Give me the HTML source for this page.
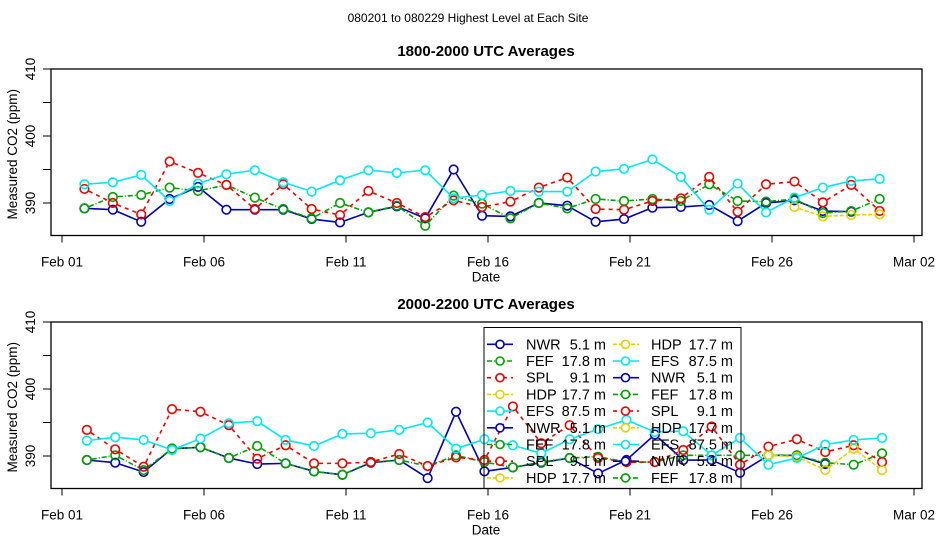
<!DOCTYPE html>
<html><head><meta charset="utf-8"><style>
body{margin:0;background:#fff;}
svg{display:block;font-family:"Liberation Sans",sans-serif;}
</style></head><body>
<svg id="chart" width="936" height="540" viewBox="0 0 936 540" xmlns="http://www.w3.org/2000/svg">
<rect width="936" height="540" fill="#fff"/>
<text x="468" y="22" font-size="12" text-anchor="middle">080201  to  080229 Highest Level at Each Site</text>
<g id="p1"></g><g id="p2"></g><g id="legend"></g>
</svg>
<script>
const days=[1,2,3,4,5,6,7,8,9,10,11,12,13,14,15,16,17,18,19,20,21,22,23,24,25,26,27,28,29];
const xTickLabels=["Feb 01","Feb 06","Feb 11","Feb 16","Feb 21","Feb 26","Mar 02"];
const xTickDays=[1,6,11,16,21,26,31];
const yTicks=[390,395,400,405,410];
const yTickLabels=["390","400","410"];
const siteNames=["NWR","FEF","SPL","HDP","EFS"];
const siteHeights=["5.1 m","17.8 m","9.1 m","17.7 m","87.5 m"];
// panel 1: 1800-2000 UTC
const p1NWR=[389.2,389.0,387.2,390.6,392.4,389.0,389.0,389.0,387.6,387.1,388.6,389.5,387.7,395.0,388.1,388.0,390.0,389.6,387.2,387.6,389.3,389.4,389.7,387.3,390.0,390.4,388.8,388.7,null];
const p1FEF=[389.2,390.9,391.2,392.3,391.8,392.7,390.8,389.1,387.7,390.0,388.6,389.6,386.6,391.1,389.9,387.7,390.0,389.2,390.6,390.3,390.6,390.3,392.8,390.3,390.2,390.6,388.5,388.8,390.6];
const p1SPL=[392.1,390.0,388.3,396.2,394.5,392.7,389.1,392.8,389.1,388.2,391.8,390.0,387.9,390.4,389.4,390.2,392.3,393.8,389.1,389.0,390.3,390.7,393.9,388.7,392.8,393.2,390.1,392.7,388.8];
const p1HDP=[null,null,null,null,null,null,null,null,null,null,null,null,null,null,null,null,null,null,null,null,null,null,null,null,null,389.4,388.0,388.2,388.3];
const p1EFS=[392.8,393.1,394.2,390.3,392.9,394.3,394.9,393.1,391.7,393.4,394.9,394.5,394.9,390.7,391.2,391.8,391.7,391.7,394.7,395.1,396.5,393.9,389.0,392.9,388.6,390.8,392.3,393.3,393.6];
// panel 2: 2000-2200 UTC
const p2NWR=[389.4,389.0,387.6,391.1,391.3,389.7,388.8,388.9,387.7,387.2,389.0,389.4,386.7,396.6,387.7,388.3,389.0,389.7,387.4,389.4,393.2,389.4,389.4,387.5,390.1,390.1,388.8,null,null];
const p2FEF=[389.4,390.1,387.9,391.1,391.3,389.7,391.5,388.9,387.7,387.2,389.1,389.4,388.5,390.1,389.1,388.3,389.1,389.7,389.9,389.1,389.1,390.1,390.1,390.1,390.1,390.1,389.0,388.7,390.4];
const p2SPL=[393.9,391.0,388.4,397.0,396.6,394.6,389.6,391.6,388.9,388.9,389.1,390.3,388.5,389.8,389.4,397.4,391.9,394.6,389.7,389.1,389.1,390.9,394.4,388.7,391.4,392.5,390.6,391.6,389.1];
const p2HDP=[null,null,null,null,null,null,null,null,null,null,null,null,null,null,null,null,null,null,null,null,null,null,null,null,390.1,389.9,387.9,391.1,387.9];
const p2EFS=[392.3,392.8,392.4,390.9,392.6,394.9,395.2,392.4,391.5,393.3,393.4,393.9,395.0,391.1,392.5,391.6,390.4,392.5,394.0,395.4,393.6,393.7,390.1,392.7,388.7,389.7,391.7,392.4,392.7];

const NS="http://www.w3.org/2000/svg";
const styles=[{c:"#0000b0",d:""},{c:"#00a000",d:"5,2,1,2"},{c:"#ee0000",d:"4,4"},{c:"#e8d000",d:"4,2"},{c:"#00e8f0",d:""}];
function mk(tag,attrs,parent){const e=document.createElementNS(NS,tag);for(const k in attrs)e.setAttribute(k,attrs[k]);parent.appendChild(e);return e;}

function panel(gid,top,title,offset,series){
  const g=document.getElementById(gid);
  const L=51,R=922,T=top,B=top+166.5;
  const xs=d=>62+28.4*(d-1);
  const ys=v=>T+(410-v)*6.7;
  const box=mk("rect",{x:L,y:T,width:R-L,height:B-T,fill:"none",stroke:"#000","stroke-width":1.3},g);
  
  
  const t=mk("text",{x:486,y:T-13,"font-size":15,"font-weight":"bold","text-anchor":"middle"},g);t.textContent=title;
  
  
  yTicks.forEach(v=>{mk("line",{x1:43,x2:L,y1:ys(v),y2:ys(v),stroke:"#000"},g);});
  yTickLabels.forEach(s=>{const v=+s;const tx=mk("text",{x:0,y:0,"font-size":13.5,"text-anchor":"middle",transform:`translate(35,${ys(v)}) rotate(-90)`},g);tx.textContent=s;
    
    });
  const yl=mk("text",{x:0,y:0,"font-size":13.5,"text-anchor":"middle",transform:`translate(17,${(T+B)/2+2}) rotate(-90)`},g);yl.textContent="Measured CO2 (ppm)";
  
  
  xTickDays.forEach((d,i)=>{mk("line",{x1:xs(d),x2:xs(d),y1:B,y2:B+7,stroke:"#000"},g);
    const tx=mk("text",{x:xs(d),y:B+31,"font-size":13.5,"text-anchor":"middle"},g);tx.textContent=xTickLabels[i];
    
    });
  const xl=mk("text",{x:486,y:B+46,"font-size":13.5,"text-anchor":"middle"},g);xl.textContent="Date";
  
  
  series.forEach((vals,si)=>{
    const st=styles[si];let pts=[];
    const segs=[];
    vals.forEach((v,i)=>{if(v==null){if(pts.length)segs.push(pts);pts=[];}else pts.push([xs(days[i]+offset),ys(v)]);});
    if(pts.length)segs.push(pts);
    segs.forEach(s=>{
      for(let k=0;k<s.length-1;k++){
        const [x1,y1]=s[k],[x2,y2]=s[k+1];const dx=x2-x1,dy=y2-y1,len=Math.hypot(dx,dy);if(len<10)continue;
        const ux=dx/len*5,uy=dy/len*5;
        const ln=mk("line",{x1:x1+ux,y1:y1+uy,x2:x2-ux,y2:y2-uy,stroke:st.c,"stroke-width":1.6,"stroke-dasharray":st.d},g);
        
        
      }
      s.forEach(p=>{const c=mk("circle",{cx:p[0],cy:p[1],r:4.3,fill:"none",stroke:st.c,"stroke-width":1.6},g);
        
        });
    });
  });
}
panel("p1",69,"1800-2000 UTC Averages",0.79,[p1NWR,p1FEF,p1SPL,p1HDP,p1EFS]);
panel("p2",322,"2000-2200 UTC Averages",0.875,[p2NWR,p2FEF,p2SPL,p2HDP,p2EFS]);

// legend
const lg=document.getElementById("legend");
const lb=mk("rect",{x:484,y:327.5,width:257,height:161,fill:"none",stroke:"#000","stroke-width":1},lg);


const order=[0,1,2,3,4,0,1,2,3,3,4,0,1,2,3,4,0,1];
order.forEach((si,i)=>{
  const col=i<9?0:1,row=i%9;
  const y=344.3+row*16.7;
  const x0=col?613:487, xm=col?625.5:500, xt=col?651:526, xv=col?733:606;
  const st=styles[si];
  const e=mk("g",{},lg);
  
  
  mk("line",{x1:x0,x2:x0+26,y1:y,y2:y,stroke:st.c,"stroke-width":1.6,"stroke-dasharray":st.d},e);
  mk("circle",{cx:xm,cy:y,r:4,fill:"#fff",stroke:st.c,"stroke-width":1.6},e);
  const a=mk("text",{x:xt,y:y+5,"font-size":14.5},e);a.textContent=siteNames[si];
  const b=mk("text",{x:xv,y:y+5,"font-size":14.5,"text-anchor":"end"},e);b.textContent=siteHeights[si];
});
</script>
</body></html>
